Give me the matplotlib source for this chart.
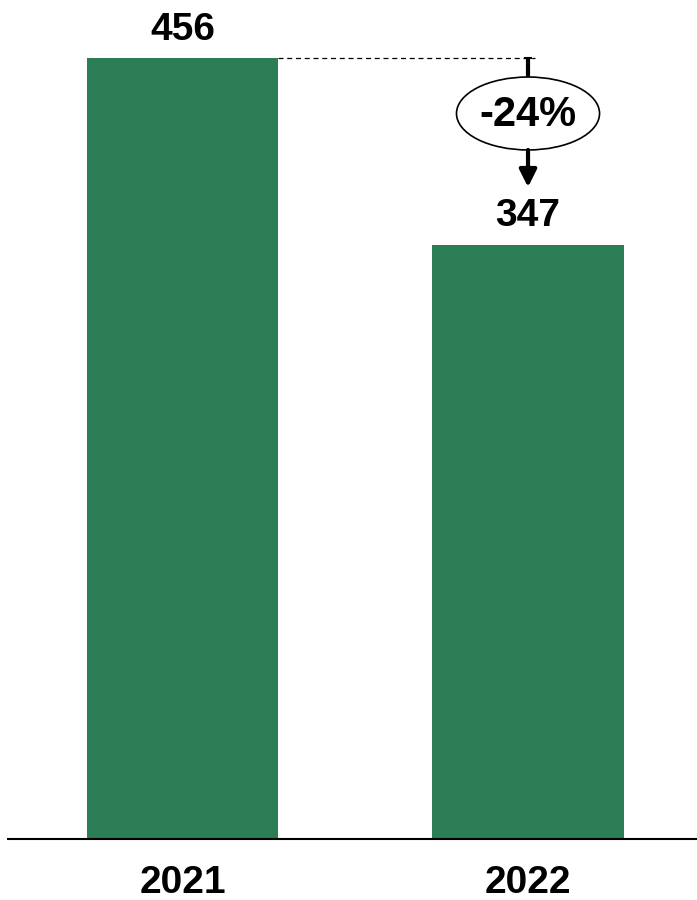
# two-year bar comparison with change callout

import numpy as np
import matplotlib.pyplot as plt
from matplotlib.patches import Ellipse

years = ['2021', '2022']
values = [456, 347]

bar_color = '#2a7d54'
plt.rcParams['font.family'] = ['Liberation Sans', 'DejaVu Sans']

fig = plt.figure(figsize=(6.97, 9), dpi=100)
ax = fig.add_axes([0, 0, 1, 1])
x = np.arange(len(years))
bar_width = 0.553

ax.bar(x, values, width=bar_width, color=bar_color)
ax.set_xlim(-0.528, 1.489)
ax.set_ylim(-35.9, 489.9)
ax.axis('off')

# baseline
ax.plot([-0.508, 1.489], [0, 0], color='black', lw=1.5, solid_capstyle='butt')

# value labels and year labels
for xi, v, yr in zip(x, values, years):
    ax.annotate(str(v), (xi, v), xytext=(0, 7.5), textcoords='offset points',
                ha='center', va='bottom', fontsize=28, fontweight='bold')
    ax.annotate(yr, (xi, 0), xytext=(0, -32), textcoords='offset points',
                ha='center', va='center', fontsize=28, fontweight='bold')

# change callout
pct = round((values[1] - values[0]) / values[0] * 100)
ax.plot([x[0] + bar_width / 2, x[1] + 0.02], [values[0], values[0]],
        color='black', lw=0.9, dashes=(4, 3))
ell_y = values[0] - 32.4
ell_h = 42.6
ax.plot([x[1] - 0.012, x[1] + 0.012], [values[0], values[0]], color='black',
        lw=1.5, solid_capstyle='butt')
ax.plot([x[1], x[1]], [values[0], ell_y + ell_h / 2], color='black', lw=3,
        solid_capstyle='butt', zorder=2)
ax.add_patch(Ellipse((x[1], ell_y), 0.414, ell_h, facecolor='white',
                     edgecolor='black', lw=1.2, zorder=3))
ax.text(x[1], ell_y - 1, f'{pct}%', ha='center', va='center', fontsize=30,
        fontweight='bold', zorder=4)
ax.annotate('', xy=(x[1], values[1] + 33.6), xytext=(x[1], ell_y - ell_h / 2),
            arrowprops=dict(arrowstyle='-|>', color='black', lw=3,
                            mutation_scale=26, shrinkA=0, shrinkB=0))

plt.savefig('out.png', dpi=100)
